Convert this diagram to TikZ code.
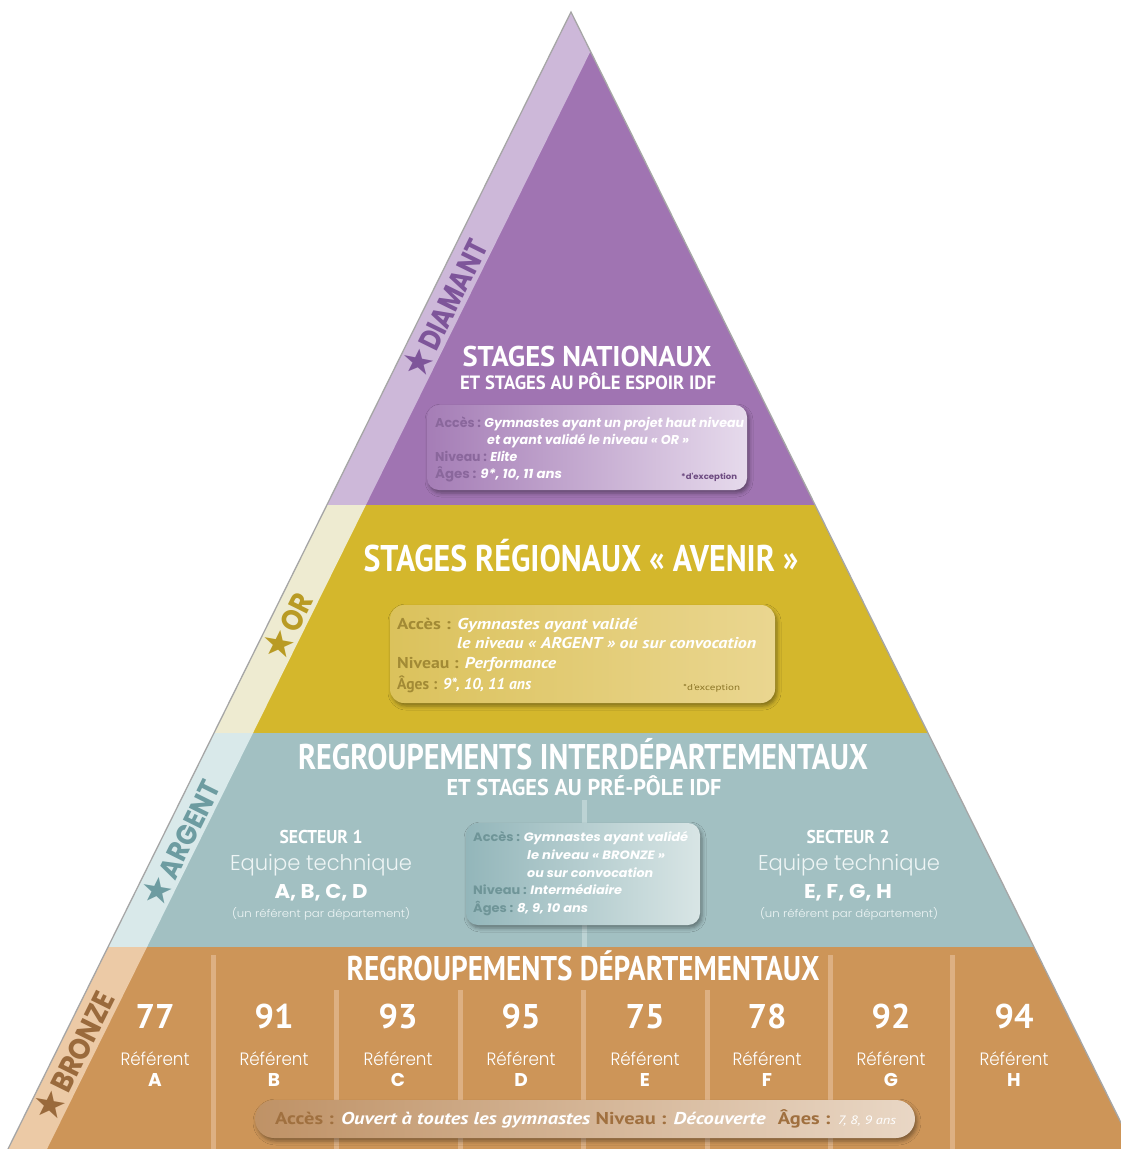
\documentclass[tikz,border=0pt]{standalone}
\usepackage{fontspec}
\usepackage{graphicx}
\usetikzlibrary{shadows.blur}
\newfontfamily\ptsans{PT Sans}
\newfontfamily\popp{Poppins}
\newfontfamily\poppl{Poppins Light}
\newfontfamily\djv{DejaVu Sans}
% band colours
\definecolor{cP}{HTML}{A074B2}\definecolor{cPs}{HTML}{CDB8D9}\definecolor{cPl}{HTML}{7E559A}\definecolor{cPt}{HTML}{8A679C}\definecolor{cPx}{HTML}{6E4C82}
\definecolor{cG}{HTML}{D4B72C}\definecolor{cGs}{HTML}{EEEBD1}\definecolor{cGl}{HTML}{B99B24}\definecolor{cGt}{HTML}{A28A35}\definecolor{cGx}{HTML}{8C7628}
\definecolor{cT}{HTML}{A2C0C2}\definecolor{cTs}{HTML}{D9E9EA}\definecolor{cTl}{HTML}{6D9CA1}\definecolor{cTt}{HTML}{6F9598}\definecolor{cTw}{HTML}{EEF5F5}
\definecolor{cB}{HTML}{CD9558}\definecolor{cBs}{HTML}{ECCAA6}\definecolor{cBl}{HTML}{9A6A3C}\definecolor{cBt}{HTML}{A0703F}\definecolor{cBsep}{HTML}{DDB083}
\definecolor{cTsep}{HTML}{BCD3D4}
% box gradients
\definecolor{bPl}{HTML}{A57DB6}\definecolor{bPr}{HTML}{E6DAEC}
\definecolor{bGl}{HTML}{DBC25C}\definecolor{bGr}{HTML}{EAD690}
\definecolor{bTl}{HTML}{93B6BA}\definecolor{bTr}{HTML}{D8E5E5}
\definecolor{bBl}{HTML}{BF9266}\definecolor{bBr}{HTML}{E9D7C5}
\newsavebox\fitbox
\newsavebox\capbox
\newlength\fitw
% #1 font, #2 width, #3 cap height, #4 text
\newcommand\fitt[4]{\sbox\fitbox{#1#4}\sbox\capbox{#1H}%
  \setlength\fitw{\wd\fitbox}\pgfmathsetmacro\fitsx{#2/\the\fitw}%
  \setlength\fitw{\ht\capbox}\pgfmathsetmacro\fitsy{#3/\the\fitw}%
  \scalebox{\fitsx}[\fitsy]{\usebox\fitbox}}
% #1 font, #2 cap height, #3 text
\newcommand\fith[3]{\sbox\capbox{#1H}%
  \setlength\fitw{\ht\capbox}\pgfmathsetmacro\fitsy{#2/\the\fitw}%
  \scalebox{\fitsy}{#1#3}}
\newcommand\bigstar{{\djv\fontsize{37}{38}\selectfont\raisebox{-1pt}{★}}\kern2pt}
\tikzset{
  txt/.style={inner sep=0pt, text=white},
  lft/.style={txt, anchor=base west},
  ctr/.style={txt, anchor=base},
  infobox/.style={rounded corners=12pt, blur shadow={shadow xshift=2pt, shadow yshift=-3pt, shadow blur radius=4pt}},
  bsep/.style={cBsep, line width=5pt},
}
\begin{document}
\begin{tikzpicture}[x=1pt,y=-1pt]
\useasboundingbox (0,0) rectangle (1121,1149);
\fill[white] (0,0) rectangle (1121,1149);
\begin{scope}
\clip (571,12) -- (1134,1149) -- (8,1149) -- cycle;
\fill[cP] (0,0) rectangle (1140,505);
\fill[cG] (0,505) rectangle (1140,733);
\fill[cT] (0,733) rectangle (1140,947);
\fill[cB] (0,947) rectangle (1140,1149);
\fill[cPs] (571,12) -- (610,12) -- (365.9,505) -- (326.9,505) -- cycle;
\fill[cGs] (326.9,505) -- (365.9,505) -- (253,733) -- (214,733) -- cycle;
\fill[cTs] (214,733) -- (253,733) -- (147,947) -- (108,947) -- cycle;
\fill[cBs] (108,947) -- (147,947) -- (47,1149) -- (8,1149) -- cycle;
% teal divider
\draw[cTsep, line width=5pt] (584,800) -- (584,947);
% brown column separators
\foreach \sx/\sy in {213/955, 336/990, 460/990, 583/990, 707/990, 830/955, 952/955}
  \draw[bsep] (\sx,\sy) -- (\sx,1149);
\end{scope}
\draw[gray!70, line width=1.3pt] (8,1149) -- (571,12) -- (1134,1149);

% ---------- stripe labels
\node[txt, text=cPl, rotate=63.66] (ldiam) at (443.9,308) {\fitt{\popp\bfseries\fontsize{28}{30}\selectfont}{150}{21}{\bigstar DIAMANT}};
\node[txt, text=cGl, rotate=63.66] (lor) at (286.4,626) {\fitt{\popp\bfseries\fontsize{28}{30}\selectfont}{72}{21}{\bigstar OR}};
\node[txt, text=cTl, rotate=63.66] (larg) at (180,843) {\fitt{\popp\bfseries\fontsize{28}{30}\selectfont}{138}{20}{\bigstar ARGENT}};
\node[txt, text=cBl, rotate=63.66] (lbrz) at (73,1056) {\fitt{\popp\bfseries\fontsize{28}{30}\selectfont}{142}{21}{\bigstar BRONZE}};

% ---------- DIAMANT band
\node[ctr] (t1) at (587,366) {\fitt{\ptsans\bfseries\fontsize{28}{30}\selectfont}{249}{20}{STAGES NATIONAUX}};
\node[ctr] (t2) at (588,389) {\fitt{\ptsans\bfseries\fontsize{19}{21}\selectfont}{256}{13.5}{ET STAGES AU PÔLE ESPOIR IDF}};
\shade[infobox, left color=bPl, right color=bPr] (427,405) rectangle (747,490);
\node[lft] (p1) at (435,427) {\fitt{\popp\bfseries\fontsize{12}{14}\selectfont}{309}{9}{{\color{cPt}Accès :} \itshape Gymnastes ayant un projet haut niveau}};
\node[lft] (p2) at (487,444) {\fitt{\popp\bfseries\fontsize{12}{14}\selectfont}{202}{9}{\itshape et ayant validé le niveau «~OR~»}};
\node[lft] (p3) at (435,461) {\fitt{\popp\bfseries\fontsize{12}{14}\selectfont}{82}{9}{{\color{cPt}Niveau :} \itshape Elite}};
\node[lft] (p4) at (435,478) {\fitt{\popp\bfseries\fontsize{12}{14}\selectfont}{127}{9}{{\color{cPt}Âges :} \itshape 9*, 10, 11 ans}};
\node[lft, text=cPx] (p5) at (681,479) {\fitt{\popp\bfseries\fontsize{7}{8}\selectfont}{56}{5.5}{*d'exception}};

% ---------- OR band
\node[ctr] (t3) at (581,571) {\fitt{\ptsans\bfseries\fontsize{36}{38}\selectfont}{435}{26}{STAGES RÉGIONAUX «~AVENIR~»}};
\shade[infobox, rounded corners=14pt, left color=bGl, right color=bGr] (390,605) rectangle (775,703);
\node[lft] (g1) at (397,629) {\fitt{\ptsans\fontsize{15}{17}\selectfont}{240}{11}{{\bfseries\color{cGt}Accès :} \bfseries\itshape Gymnastes ayant validé}};
\node[lft] (g2) at (457,648) {\fitt{\ptsans\fontsize{15}{17}\selectfont}{299}{11}{\bfseries\itshape le niveau «~ARGENT~» ou sur convocation}};
\node[lft] (g3) at (397,668) {\fitt{\ptsans\fontsize{15}{17}\selectfont}{159}{11}{{\bfseries\color{cGt}Niveau :} \bfseries\itshape Performance}};
\node[lft] (g4) at (397,689) {\fitt{\ptsans\fontsize{15}{17}\selectfont}{134}{11}{{\bfseries\color{cGt}Âges :} \bfseries\itshape 9*, 10, 11 ans}};
\node[lft, text=cGx] (g5) at (683,690) {\fitt{\ptsans\fontsize{8}{9}\selectfont}{57}{6}{*d'exception}};

% ---------- ARGENT band
\node[ctr] (t4) at (583,769) {\fitt{\ptsans\bfseries\fontsize{36}{38}\selectfont}{570}{25}{REGROUPEMENTS INTERDÉPARTEMENTAUX}};
\node[ctr] (t5) at (584,795) {\fitt{\ptsans\bfseries\fontsize{23}{25}\selectfont}{275}{16}{ET STAGES AU PRÉ-PÔLE IDF}};
\node[ctr] (s1a) at (321,843) {\fitt{\ptsans\bfseries\fontsize{18}{20}\selectfont}{83}{13}{SECTEUR 1}};
\node[ctr, text=cTw] (s1b) at (321,870) {\fitt{\poppl\fontsize{21}{23}\selectfont}{182}{15}{Equipe technique}};
\node[ctr] (s1c) at (321,898) {\fitt{\popp\bfseries\fontsize{20}{22}\selectfont}{93}{14}{A, B, C, D}};
\node[ctr, text=cTw] (s1d) at (321,917) {\fitt{\poppl\fontsize{11}{13}\selectfont}{178}{7.5}{(un référent par département)}};
\node[ctr] (s2a) at (848,843) {\fitt{\ptsans\bfseries\fontsize{18}{20}\selectfont}{83}{13}{SECTEUR 2}};
\node[ctr, text=cTw] (s2b) at (849,870) {\fitt{\poppl\fontsize{21}{23}\selectfont}{182}{15}{Equipe technique}};
\node[ctr] (s2c) at (848,898) {\fitt{\popp\bfseries\fontsize{20}{22}\selectfont}{88}{14}{E, F, G, H}};
\node[ctr, text=cTw] (s2d) at (849,917) {\fitt{\poppl\fontsize{11}{13}\selectfont}{178}{7.5}{(un référent par département)}};
\shade[infobox, left color=bTl, right color=bTr] (466,823) rectangle (700,925);
\node[lft] (a1) at (473,841) {\fitt{\popp\bfseries\fontsize{12}{14}\selectfont}{215}{8.5}{{\color{cTt}Accès :} \itshape Gymnastes ayant validé}};
\node[lft] (a2) at (527,859) {\fitt{\popp\bfseries\fontsize{12}{14}\selectfont}{138}{8.5}{\itshape le niveau «~BRONZE~»}};
\node[lft] (a3) at (527,877) {\fitt{\popp\bfseries\fontsize{12}{14}\selectfont}{126}{8.5}{\itshape ou sur convocation}};
\node[lft] (a4) at (473,894) {\fitt{\popp\bfseries\fontsize{12}{14}\selectfont}{149}{8.5}{{\color{cTt}Niveau :} \itshape Intermédiaire}};
\node[lft] (a5) at (473,912) {\fitt{\popp\bfseries\fontsize{12}{14}\selectfont}{115}{8.5}{{\color{cTt}Âges :} \itshape 8, 9, 10 ans}};

% ---------- BRONZE band
\node[ctr] (t6) at (583,980) {\fitt{\ptsans\bfseries\fontsize{34}{36}\selectfont}{473}{24}{REGROUPEMENTS DÉPARTEMENTAUX}};
\foreach \cx/\num/\lt [count=\i] in {155/77/A, 274/91/B, 398/93/C, 521/95/D, 645/75/E, 767/78/F, 891/92/G, 1014/94/H}{
  \node[ctr] (num\i) at (\cx,1028) {\fith{\ptsans\bfseries\fontsize{34}{36}\selectfont}{24}{\num}};
  \node[ctr] (ref\i) at (\cx,1065) {\fitt{\poppl\fontsize{18}{20}\selectfont}{69}{12.5}{Référent}};
  \node[ctr] (let\i) at (\cx,1086) {\fith{\popp\bfseries\fontsize{18}{20}\selectfont}{13}{\lt}};
}
\shade[infobox, rounded corners=19pt, left color=bBl, right color=bBr] (255,1100) rectangle (915,1138);
\node[lft] (b1) at (275,1124) {\fitt{\ptsans\fontsize{17}{19}\selectfont}{621}{12}{{\bfseries\color{cBt}Accès :} {\bfseries\itshape Ouvert à toutes les gymnastes} {\bfseries\color{cBt}Niveau :} {\bfseries\itshape Découverte}\hspace{0.6em}{\bfseries\color{cBt}Âges :} {\itshape\fontsize{12}{14}\selectfont 7, 8, 9 ans}}};
\end{tikzpicture}
\end{document}
